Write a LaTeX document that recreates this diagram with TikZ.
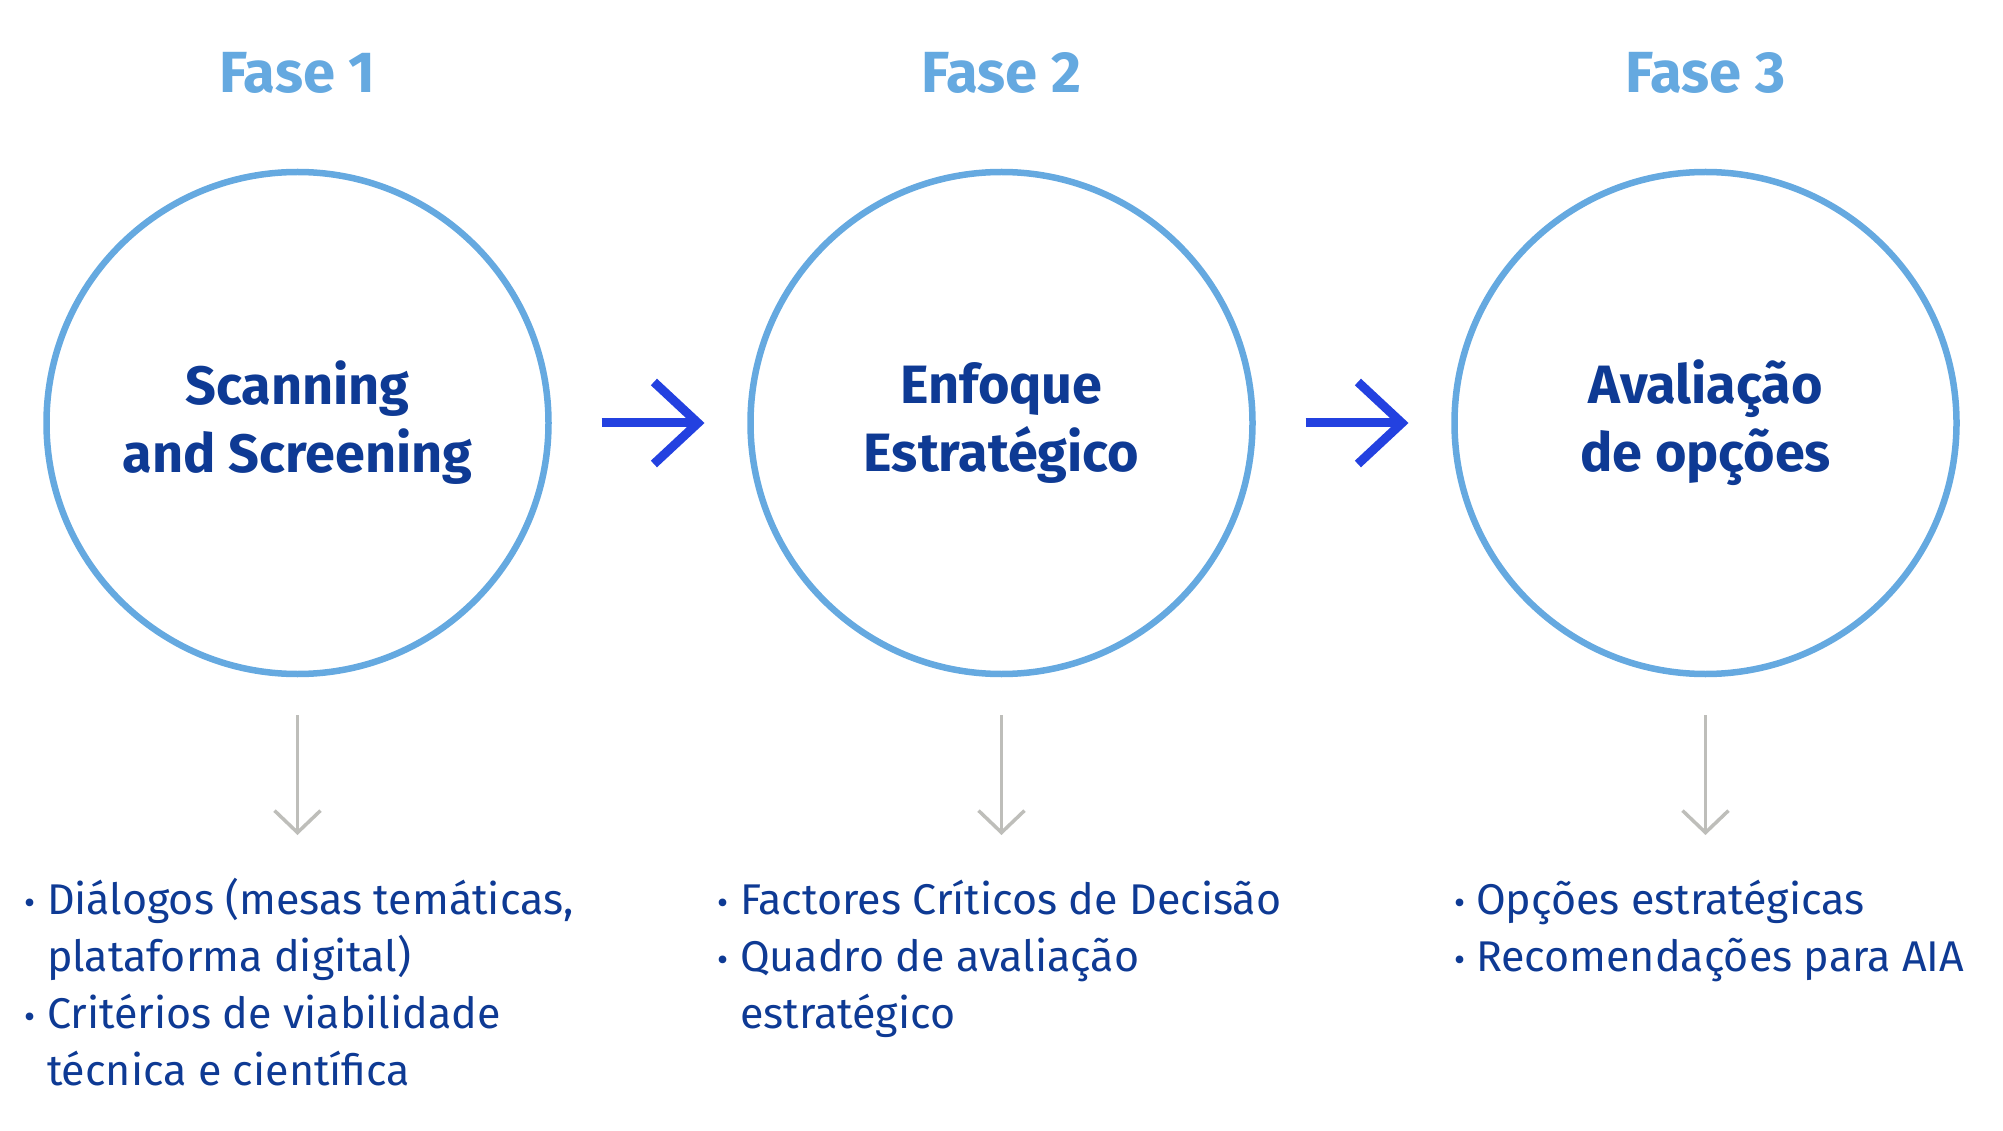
\documentclass[tikz,border=0pt]{standalone}
\usepackage{fontspec}
\setmainfont{Fira Sans}
\usetikzlibrary{arrows.meta,positioning}
\definecolor{faseblue}{RGB}{101,169,224}
\definecolor{textblue}{RGB}{14,58,148}
\definecolor{arrowblue}{RGB}{35,65,224}
\definecolor{arrowgray}{RGB}{190,190,186}
\tikzset{node distance=704pt, % centre to centre of the phase circles
        every node/.style={inner sep=0pt, outer sep=0pt},
        phase/.style={ % the three circles
            circle,
            draw=faseblue,
            line width=6.5pt,
            minimum size=502pt,
            text=textblue,
            align=center,
            font=\bfseries\fontsize{54}{68}\selectfont},
        fase/.style={text=faseblue, font=\bfseries\fontsize{58}{70}\selectfont},
        itemtext/.style={text=textblue, anchor=base west, font=\fontsize{43}{57}\selectfont},
        bulletdot/.style={text=textblue, anchor=base east, font=\fontsize{34}{57}\selectfont},
        nextarrow/.style={ % blue arrows between the phases
            draw=arrowblue,
            line width=9pt,
            -{Straight Barb[length=44pt,width=82pt]}},
        godown/.style={ % grey arrows down to the lists
            draw=arrowgray,
            line width=3.5pt,
            -{Straight Barb[length=22pt,width=46pt]}}
        }

\begin{document}
\begin{tikzpicture}[x=1pt,y=-1pt]
    \useasboundingbox (0,0) rectangle (2003,1131);

    \node[phase] (s1) at (297.5,423) {Scanning\\and Screening};
    \node[phase] (s2) [right of =s1] {Enfoque\\Estratégico};
    \node[phase] (s3) [right of =s2] {Avaliação\\de opções};

    \node[fase] (f1) [above of =s1, node distance=350pt] {Fase 1};
    \node[fase] (f2) [above of =s2, node distance=350pt] {Fase 2};
    \node[fase] (f3) [above of =s3, node distance=350pt] {Fase 3};

    \draw[nextarrow, shorten <=53pt, shorten >=46pt] (s1) -- (s2);
    \draw[nextarrow, shorten <=53pt, shorten >=46pt] (s2) -- (s3);

    \coordinate (t1) at (297.5,835);
    \coordinate (t2) at (1001.5,835);
    \coordinate (t3) at (1705.5,835);
    \draw[godown, shorten <=41pt] (s1) -- (t1);
    \draw[godown, shorten <=41pt] (s2) -- (t2);
    \draw[godown, shorten <=41pt] (s3) -- (t3);

    % lists under the phases
    \node[itemtext] (a1) at (47,914) {Diálogos (mesas temáticas,};
    \node[itemtext] (a2) at (47,971) {plataforma digital)};
    \node[itemtext] (a3) at (47,1028) {Critérios de viabilidade};
    \node[itemtext] (a4) at (47,1085) {técnica e científica};
    \node[itemtext] (b1) at (740,914) {Factores Críticos de Decisão};
    \node[itemtext] (b2) at (740,971) {Quadro de avaliação};
    \node[itemtext] (b3) at (740,1028) {estratégico};
    \node[itemtext] (c1) at (1476,914) {Opções estratégicas};
    \node[itemtext] (c2) at (1476,971) {Recomendações para AIA};

    \node[bulletdot, xshift=-11pt] at (a1.base west) {•};
    \node[bulletdot, xshift=-11pt] at (a3.base west) {•};
    \node[bulletdot, xshift=-11pt] at (b1.base west) {•};
    \node[bulletdot, xshift=-11pt] at (b2.base west) {•};
    \node[bulletdot, xshift=-11pt] at (c1.base west) {•};
    \node[bulletdot, xshift=-11pt] at (c2.base west) {•};
\end{tikzpicture}
\end{document}
